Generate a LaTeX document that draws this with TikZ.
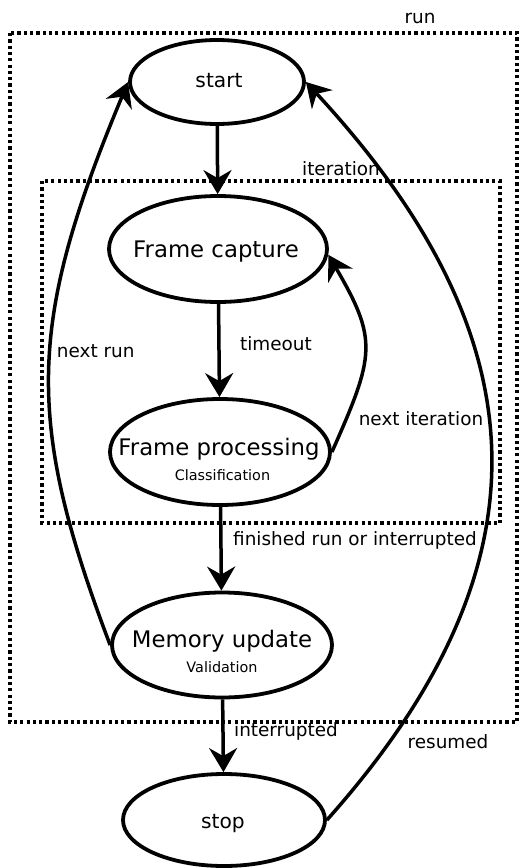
\documentclass[tikz,border=0pt]{standalone}
\usepackage{fontspec}
\setmainfont{DejaVu Sans}
\usetikzlibrary{arrows.meta,shapes.geometric}

\tikzset{
  state/.style={draw, line width=3.8pt, ellipse, inner sep=0pt},
  arr/.style={line width=3.5pt, -{Stealth[length=24pt,width=28pt,inset=8pt]}},
  dotbox/.style={line width=3.2pt, dash pattern=on 3.2pt off 3.1pt},
  bigtxt/.style={anchor=base, inner sep=0pt, font=\fontsize{22.8}{26}\selectfont},
  midtxt/.style={anchor=base, inner sep=0pt, font=\fontsize{20.2}{24}\selectfont},
  lbl/.style={anchor=base, inner sep=0pt, font=\fontsize{18.4}{22}\selectfont},
  subtxt/.style={anchor=base, inner sep=0pt, font=\fontsize{14.4}{17}\selectfont},
}

\begin{document}
\begin{tikzpicture}[x=1pt, y=-1pt]
\useasboundingbox (0,0) rectangle (519,868);

% grouping frames
\draw[dotbox] (10,33) rectangle (517,722);
\draw[dotbox] (42,181) rectangle (500,523);
\node[lbl] (runlbl) at (420,23) {run};
\node[lbl] (itlbl) at (341,175) {iteration};

% states
\node[state, minimum width=174pt, minimum height=84pt] (start) at (217,82) {};
\node[state, minimum width=218pt, minimum height=106pt] (fc) at (218,249) {};
\node[state, minimum width=220pt, minimum height=106pt] (fp) at (220,452) {};
\node[state, minimum width=220pt, minimum height=105pt] (mu) at (222,645) {};
\node[state, minimum width=202pt, minimum height=92pt] (stop) at (224,820) {};

% state texts
\node[midtxt] (startT) at (219,87.5) {start};
\node[bigtxt] (fcT) at (216,257) {Frame capture};
\node[bigtxt] (fpT) at (219,455.7) {Frame processing};
\node[subtxt] (fpS) at (222.5,480) {Classification};
\node[bigtxt] (muT) at (222,647.3) {Memory update};
\node[subtxt] (muS) at (222,672.7) {Validation};
\node[midtxt] (stopT) at (223,828) {stop};

% transitions
\draw[arr] (start) -- (fc);
\draw[arr] (fc) -- (fp);
\draw[arr] (fp) -- (mu);
\draw[arr] (mu) -- (stop);
\draw[arr] (fp.east) .. controls (375,355) and (378,340) .. (fc.-3);
\draw[arr] (mu.west) .. controls (25,420) and (27,324) .. (start.west);
\draw[arr] (stop.east) .. controls (557,562) and (540,335) .. (start.east);

% transition labels
\node[lbl] (toL) at (276,350) {timeout};
\node[lbl] (niL) at (421,425) {next iteration};
\node[lbl] (nrL) at (95.7,357) {next run};
\node[lbl] (frL) at (355,545) {finished run or interrupted};
\node[lbl] (inL) at (286,736.7) {interrupted};
\node[lbl] (reL) at (448,748.3) {resumed};
\end{tikzpicture}
\end{document}
